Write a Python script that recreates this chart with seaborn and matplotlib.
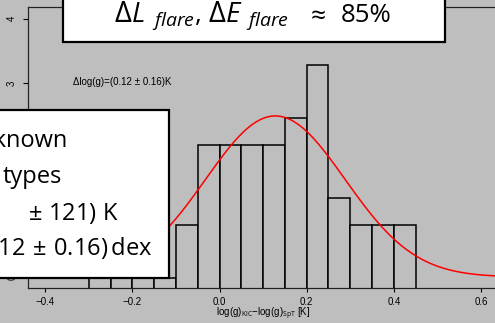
import numpy as np
import pandas as pd
import matplotlib
matplotlib.use("Agg")
import matplotlib.pyplot as plt
import seaborn as sns
from matplotlib.patches import Rectangle

# ---- data ----
bin_edges = [-0.30, -0.25, -0.20, -0.15, -0.10, -0.05, 0.00, 0.05, 0.10,
             0.15, 0.20, 0.25, 0.30, 0.35, 0.40, 0.45]
counts = [1, 1, 1, 1, 3, 6, 6, 6, 6, 7, 9, 4, 3, 3, 3]
fit_mean = 0.128
fit_sigma = 0.16
x_ticks = [-0.4, -0.2, 0.0, 0.2, 0.4, 0.6]
x_tick_labels = ["\u22120.4", "\u22120.2", "0.0", "0.2", "0.4", "0.6"]
y_ticks = [0, 1, 2, 3, 4]
y_tick_labels = ["0", "1", "2", "3", "4"]
# headline  "ΔL_flare, ΔE_flare ≈ 85%"  (pieces: text, left px, baseline px, size)
title_pieces = [
    (r"$\Delta$", 114, 22, 21),
    (r"$L$", 131, 22, 20),
    (r"$\mathit{flare}$", 152, 25.5, 14),
    (",", 195, 22, 19),
    (r"$\Delta$", 208, 22, 21),
    (r"$E$", 225, 22, 20),
    (r"$\mathit{flare}$", 246, 25.5, 14),
    (r"$\approx$", 306, 22, 19),
    ("85%", 341, 22, 18.5),
]
box_lines = ["Unknown", "types", r"$\pm\ $121) K", r"$\Delta\log g = (0.12\,\pm\,0.16)\,$dex"]
annot_text = "\u0394log(g)=(0.12 \u00b1 0.16)K"
xlabel_text = r"log(g)$_{\mathrm{KIC}}$" + "\u2212" + r"log(g)$_{\mathrm{SpT}}$ [K]"

BG = "#bebebe"
W, H = 495, 323
SANS = "Open Sans"

sns.set_theme(style="white")
plt.rcParams["font.family"] = ["Liberation Sans", "DejaVu Sans"]
plt.rcParams["mathtext.fontset"] = "custom"
plt.rcParams["mathtext.rm"] = SANS
plt.rcParams["mathtext.it"] = SANS + ":italic"
plt.rcParams["mathtext.bf"] = SANS + ":bold"
plt.rcParams["mathtext.fallback"] = "stixsans"

fig = plt.figure(figsize=(W / 100, H / 100), dpi=100, facecolor=BG)


def fx(px):
    return px / W


def fy(py):
    return 1 - py / H


L, R, T, B = 28, 498, 7, 288
ax = fig.add_axes([fx(L), fy(B), fx(R) - fx(L), fy(T) - fy(B)])
ax.set_facecolor(BG)

centers = [(a + b) / 2 for a, b in zip(bin_edges[:-1], bin_edges[1:])]
df = pd.DataFrame({"dlogg": centers, "n": counts})
sns.histplot(data=df, x="dlogg", weights="n", bins=bin_edges, ax=ax,
             color=BG, alpha=1, edgecolor="black", linewidth=1.1)

x0 = -0.4395
x1 = (R - 219.4) / 436.0
ax.set_xlim(x0, x1)
# count scale: 26.7 px per count, zero line lies below the frame (at 305 px)
ax.set_ylim((305 - B) / 26.7, (305 - T) / 26.7)
ax.set_yticks([])
ax.set_ylabel("")
ax.set_xlabel("")
ax.set_xticks(x_ticks)
ax.set_xticklabels(x_tick_labels)
ax.tick_params(axis="x", bottom=True, length=3.2, width=0.8, color="black",
               pad=3, labelsize=7, labelcolor="black")

ax2 = ax.twinx()
xs = np.linspace(x0, x1, 400)
pdf = np.exp(-0.5 * ((xs - fit_mean) / fit_sigma) ** 2) / (fit_sigma * np.sqrt(2 * np.pi))
sns.lineplot(x=xs, y=pdf, ax=ax2, color="red", linewidth=1.1)
ax2.set_ylim(-(B - 277) / 64.6, (277 - T) / 64.6)
ax2.set_xlim(x0, x1)
ax2.yaxis.tick_left()
ax2.set_yticks(y_ticks)
ax2.set_yticklabels(y_tick_labels)
ax2.tick_params(axis="y", left=True, right=False, length=3.8, width=0.8,
                color="black", pad=4, labelsize=7, labelrotation=90,
                labelcolor="black")
for lab in ax2.get_yticklabels():
    lab.set_va("center")
ax2.set_ylabel("")

for a in (ax, ax2):
    for s in a.spines.values():
        s.set_color("#222222")
        s.set_linewidth(0.8)

fig.text(fx(263), fy(313), xlabel_text, ha="center", va="center", fontsize=7,
         color="black")
fig.text(fx(73), fy(82), annot_text, ha="left", va="center", fontsize=7,
         color="black")

# white boxes overlaid on the chart
fig.add_artist(Rectangle((fx(62.5), fy(41.5)), fx(445) - fx(62.5), fy(-5) - fy(41.5),
                         transform=fig.transFigure, facecolor="white",
                         edgecolor="black", linewidth=1.6, zorder=10))
fig.add_artist(Rectangle((fx(-10), fy(277.5)), fx(169) - fx(-10), fy(110) - fy(277.5),
                         transform=fig.transFigure, facecolor="white",
                         edgecolor="black", linewidth=1.6, zorder=10))

for txt, lx, by, size in title_pieces:
    fig.text(fx(lx), fy(by), txt, ha="left", va="baseline", fontsize=size,
             color="black", zorder=11, family=[SANS, "DejaVu Sans"])

rights = [68, 62, 118, 152]
bases = [147, 183, 220, 255]
for txt, rx, by in zip(box_lines, rights, bases):
    fig.text(fx(rx), fy(by), txt, ha="right", va="baseline", fontsize=17,
             color="black", zorder=11, family=[SANS, "DejaVu Sans"])

fig.savefig("out.png", dpi=100, facecolor=BG)
